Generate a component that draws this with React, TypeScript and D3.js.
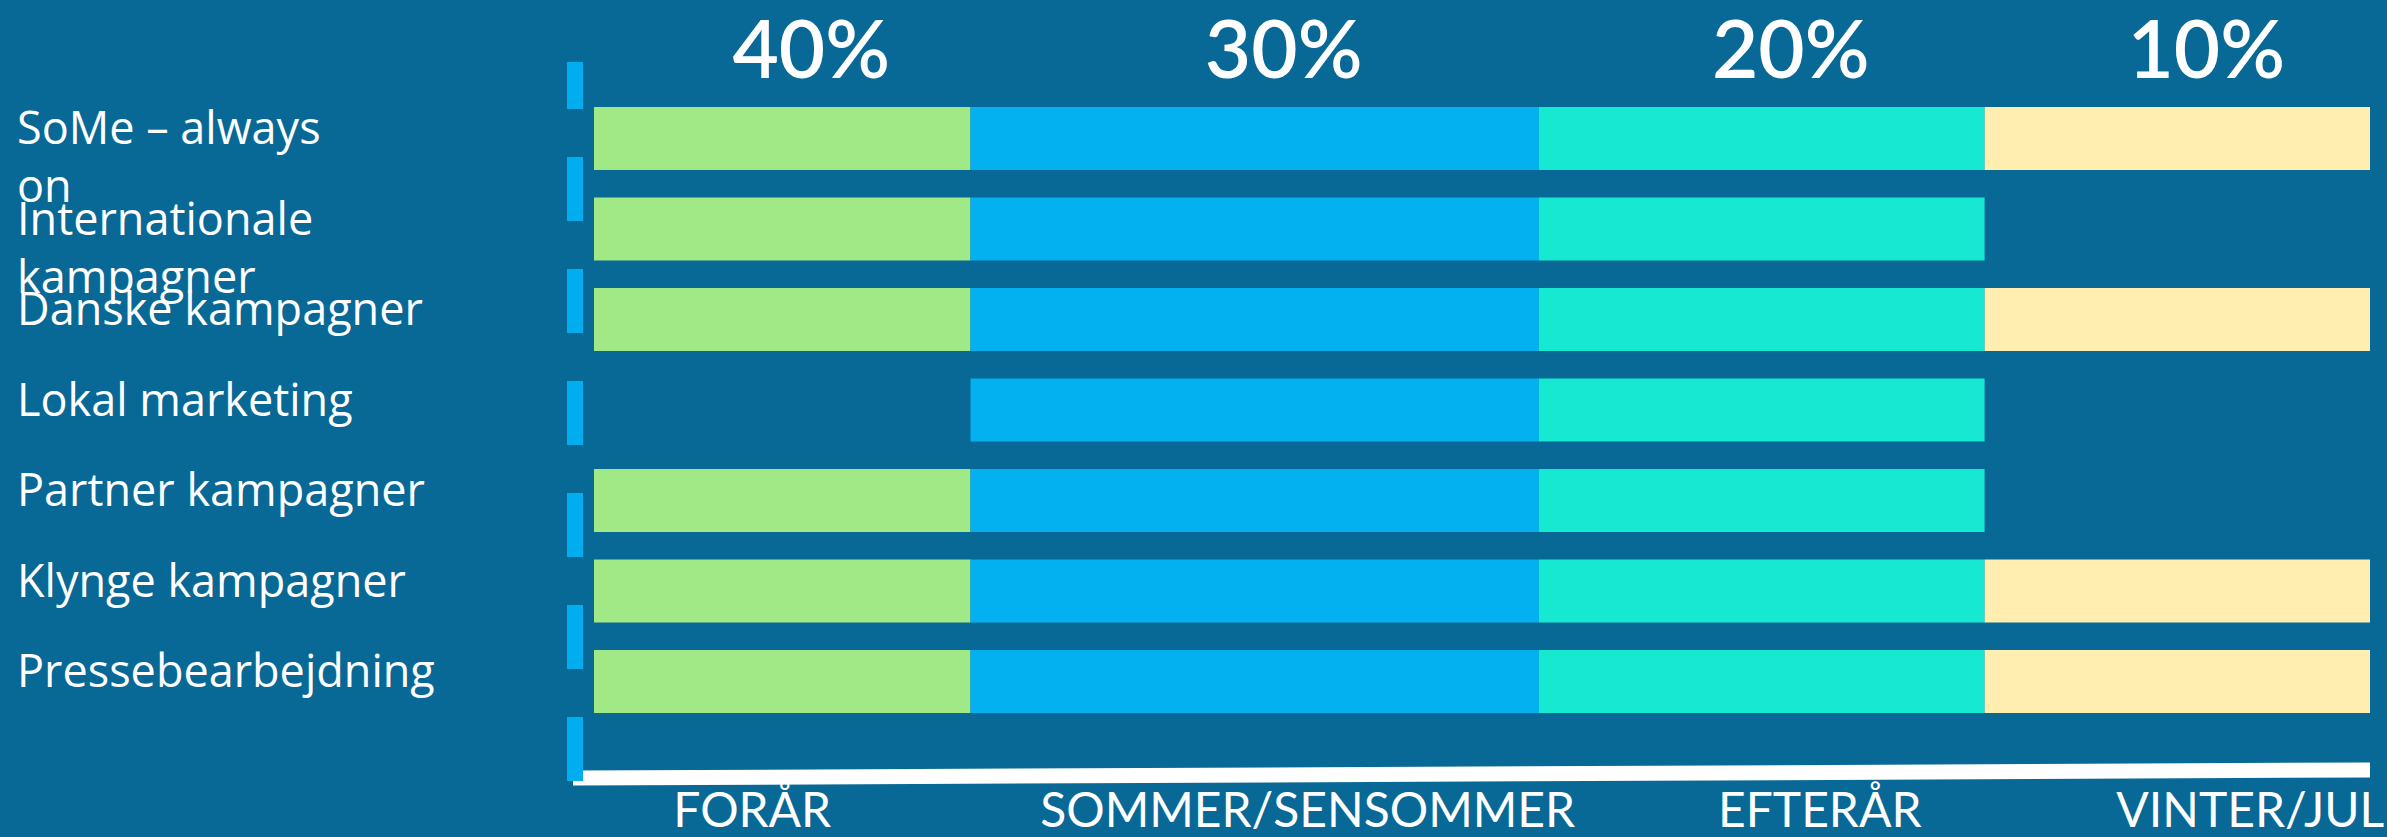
import * as d3 from 'd3';

const seasons = ['FORÅR', 'SOMMER/SENSOMMER', 'EFTERÅR', 'VINTER/JUL'];
const seasonShare = ['40%', '30%', '20%', '10%'];
// season boundaries along the year, as fractions of the timeline
const seasonEdges = [0, 0.212, 0.532, 0.783, 1];

const channels = [
  'SoMe – always\non',
  'Internationale\nkampagner',
  'Danske kampagner',
  'Lokal marketing',
  'Partner kampagner',
  'Klynge kampagner',
  'Pressebearbejdning',
];

// 1 = channel active in that season
const active = [
  [1, 1, 1, 1],
  [1, 1, 1, 0],
  [1, 1, 1, 1],
  [0, 1, 1, 0],
  [1, 1, 1, 0],
  [1, 1, 1, 1],
  [1, 1, 1, 1],
];

const seasonColors = ['#A1E887', '#03B0F0', '#17E8D2', '#FFEEAF'];

const W = 2387;
const H = 837;
const BG = '#086896';
const FONT = 'Lato, "Open Sans", sans-serif';
const LABEL_FONT = '"Open Sans", Lato, sans-serif';

export default function App() {
  const x = d3.scaleLinear().domain([0, 1]).range([594, 2370]);
  const y = d3.scaleBand<number>()
    .domain(d3.range(channels.length))
    .range([107, 713])
    .paddingInner(0.304)
    .paddingOuter(0);

  const cells = active.flatMap((row, r) =>
    row.map((on, s) => ({ r, s, on })).filter((d) => d.on)
  );

  // layout nudges for the season captions under the axis
  const captionDx = [-30, 53, 58, 73];

  return (
    <svg width={W} height={H} style={{ position: 'absolute', left: 0, top: 0, display: 'block' }}>
      <rect width={W} height={H} fill={BG} />

      {/* share of effort per season */}
      {seasonShare.map((t, i) => (
        <text
          key={t}
          x={(x(seasonEdges[i]) + x(seasonEdges[i + 1])) / 2 + 29}
          y={78}
          textAnchor="middle"
          fill="#fff"
          fontFamily={FONT}
          fontWeight={600}
          fontSize={80}
        >
          {t}
        </text>
      ))}

      {/* channel labels */}
      {channels.map((c, i) => (
        <text
          key={c}
          x={17}
          y={(y(i) ?? 0) + 37}
          fill="#fff"
          fontFamily={LABEL_FONT}
          fontSize={45}
        >
          {c.split('\n').map((line, k) => (
            <tspan key={k} x={17} dy={k === 0 ? 0 : 58}>
              {line}
            </tspan>
          ))}
        </text>
      ))}

      {/* bars */}
      {cells.map((d) => (
        <rect
          key={`${d.r}-${d.s}`}
          x={x(seasonEdges[d.s])}
          y={y(d.r)}
          width={x(seasonEdges[d.s + 1]) - x(seasonEdges[d.s])}
          height={y.bandwidth()}
          fill={seasonColors[d.s]}
        />
      ))}

      {/* time axis */}
      <line x1={x(0) - 21} y1={778} x2={x(1)} y2={770} stroke="#fff" strokeWidth={15} />
      <line
        x1={575}
        y1={62}
        x2={575}
        y2={781}
        stroke="#00AEEF"
        strokeWidth={16}
        strokeDasharray="64 48"
        strokeDashoffset={17}
      />

      {seasons.map((s, i) => (
        <text
          key={s}
          x={(x(seasonEdges[i]) + x(seasonEdges[i + 1])) / 2 + captionDx[i]}
          y={827}
          textAnchor="middle"
          fill="#fff"
          fontFamily={FONT}
          fontSize={48}
        >
          {s}
        </text>
      ))}
    </svg>
  );
}
